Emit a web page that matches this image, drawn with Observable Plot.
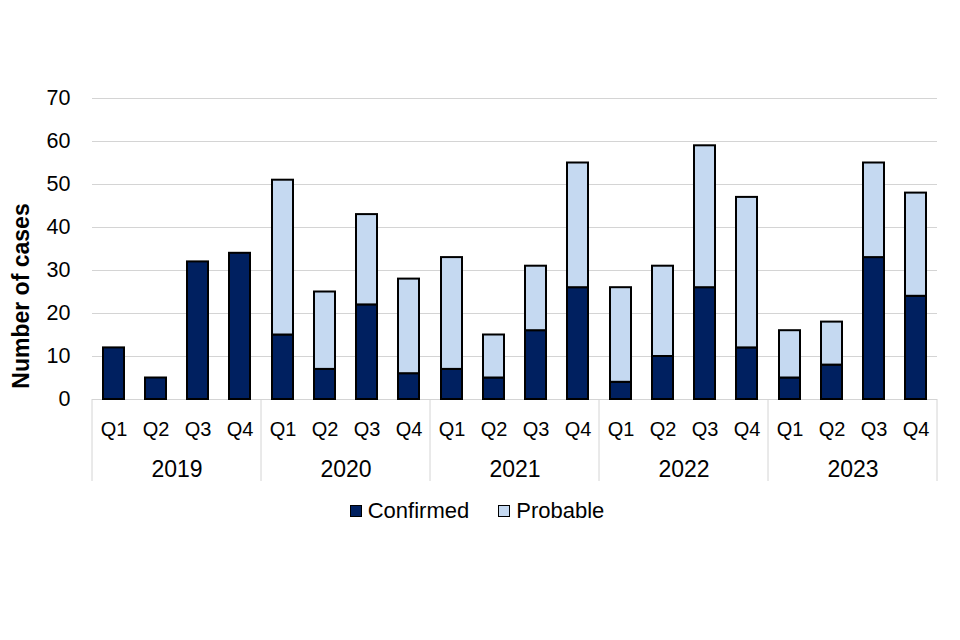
<!DOCTYPE html>
<html>
<head>
<meta charset="utf-8">
<script src="https://cdn.jsdelivr.net/npm/d3@7"></script>
<script src="https://cdn.jsdelivr.net/npm/@observablehq/plot@0.6"></script>
<style>
  html, body { margin: 0; padding: 0; background: #fff; }
  #wrap { width: 960px; height: 640px; font-family: "Liberation Sans", Arial, sans-serif; }
  #legend { display: flex; justify-content: center; align-items: center; gap: 29px; margin-top: 8px; padding-right: 6px; font-size: 22px; line-height: 26px; color: #000; }
  .item { display: flex; align-items: center; gap: 6px; }
  .sw { width: 10px; height: 10px; border: 1px solid #000; display: inline-block; }
</style>
</head>
<body>
<div id="wrap"></div>
<script>
const years = ["2019", "2020", "2021", "2022", "2023"];
const quarters = ["Q1", "Q2", "Q3", "Q4"];
const types = ["Confirmed", "Probable"];
const colors = ["#002060", "#c5d9f1"];
const confirmed = [12, 5, 32, 34, 15, 7, 22, 6, 7, 5, 16, 26, 4, 10, 26, 12, 5, 8, 33, 24];
const probable  = [0, 0, 0, 0, 36, 18, 21, 22, 26, 10, 15, 29, 22, 21, 33, 35, 11, 10, 22, 24];
const yTicks = [0, 10, 20, 30, 40, 50, 60, 70];

const data = [];
years.forEach((yr, i) => quarters.forEach((q, j) => {
  const k = i * 4 + j;
  data.push({year: yr, quarter: q, type: "Confirmed", value: confirmed[k]});
  if (probable[k] > 0) data.push({year: yr, quarter: q, type: "Probable", value: probable[k]});
}));

const chart = Plot.plot({
  width: 960, height: 490,
  marginTop: 98, marginBottom: 91, marginLeft: 90, marginRight: 22,
  style: {fontFamily: "'Liberation Sans', Arial, sans-serif", fontSize: "20px", color: "#000", background: "#fff"},
  fx: {domain: years, padding: 0, label: null},
  x: {domain: quarters, paddingInner: 0.5, paddingOuter: 0.25, label: null},
  y: {domain: [0, 70], label: "Number of cases"},
  color: {domain: types, range: colors},
  marks: [
    Plot.gridY(yTicks.filter(t => t > 0), {stroke: "#d4d4d4", strokeOpacity: 1, strokeWidth: 1}),
    Plot.ruleY([0], {stroke: "#d4d4d4", strokeWidth: 1}),
    Plot.barY(data, {fx: "year", x: "quarter", y: "value", fill: "type", stroke: "#000", strokeWidth: 2}),
    Plot.axisY(yTicks, {tickSize: 0, tickPadding: 22, fontSize: 21.5, label: "Number of cases", labelAnchor: "center", labelArrow: "none", labelOffset: 80}),
    Plot.axisX({tickSize: 0, tickPadding: 22, fontSize: 20, label: null}),
    Plot.axisFx({anchor: "bottom", tickSize: 0, tickPadding: 61, fontSize: 23, label: null})
  ]
});

document.getElementById("wrap").appendChild(chart);

// bold, larger axis title, shifted down along the axis as in the reference
d3.select(chart).selectAll("[aria-label='y-axis label'] text")
  .attr("font-weight", "bold").attr("font-size", 23).attr("dx", -47);

// year divider lines derived from the facet scale
const fx = chart.scale("fx");
const ys = chart.scale("y");
const y0 = ys.apply(0);
const edges = years.map(d => fx.apply(d));
edges.push(fx.apply(years[years.length - 1]) + fx.bandwidth);
d3.select(chart).append("g").attr("stroke", "#d4d4d4").attr("stroke-width", 1)
  .selectAll("line").data(edges).join("line")
  .attr("x1", d => d).attr("x2", d => d)
  .attr("y1", y0).attr("y2", y0 + 82);

// legend
const legend = document.createElement("div");
legend.id = "legend";
types.forEach((t, i) => {
  const it = document.createElement("span");
  it.className = "item";
  const sw = document.createElement("span");
  sw.className = "sw";
  sw.style.background = colors[i];
  it.appendChild(sw);
  it.appendChild(document.createTextNode(t));
  legend.appendChild(it);
});
document.getElementById("wrap").appendChild(legend);
</script>
</body>
</html>
